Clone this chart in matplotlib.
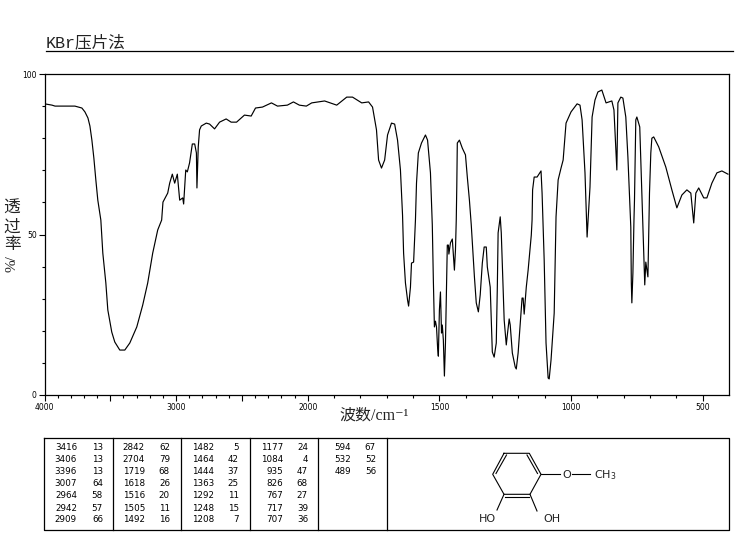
import numpy as np
import matplotlib
matplotlib.use("Agg")
import matplotlib.pyplot as plt

# curve
wavenumber = [3998, 3943, 3920, 3769, 3716, 3693, 3670, 3655, 3640, 3625, 3610, 3595, 3572, 3557, 3534, 3519,
              3489, 3466, 3428, 3390, 3352, 3299, 3254, 3216, 3178, 3140, 3110, 3100, 3064, 3049, 3029, 3011,
              2991, 2973, 2950, 2943, 2927, 2915, 2898, 2877, 2859, 2846, 2842, 2832, 2822, 2809, 2771, 2746,
              2708, 2670, 2620, 2582, 2541, 2481, 2430, 2397, 2344, 2276, 2230, 2155, 2109, 2064, 2011, 1985,
              1936, 1890, 1852, 1830, 1795, 1769, 1754, 1739, 1731, 1720, 1708, 1697, 1682, 1670, 1659, 1648,
              1640, 1636, 1629, 1621, 1617, 1610, 1606, 1598, 1591, 1587, 1580, 1568, 1553, 1545, 1534, 1527,
              1523, 1519, 1515, 1511, 1507, 1504, 1500, 1496, 1492, 1489, 1485, 1481, 1477, 1473, 1470, 1466,
              1464, 1458, 1451, 1443, 1439, 1436, 1434, 1432, 1424, 1413, 1401, 1394, 1386, 1379, 1367, 1360,
              1352, 1345, 1337, 1330, 1322, 1318, 1307, 1299, 1292, 1284, 1280, 1277, 1269, 1265, 1261, 1254,
              1246, 1242, 1235, 1231, 1223, 1212, 1208, 1201, 1193, 1186, 1182, 1178, 1170, 1163, 1151, 1148,
              1146, 1140, 1129, 1114, 1110, 1102, 1095, 1087, 1083, 1076, 1064, 1057, 1049, 1038, 1030, 1019,
              1000, 977, 966, 958, 947, 939, 928, 920, 909, 898, 883, 867, 845, 837, 830, 826,
              822, 811, 803, 792, 784, 773, 771, 769, 765, 761, 759, 754, 750, 739, 731, 723,
              720, 716, 708, 704, 702, 697, 693, 686, 667, 640, 617, 598, 579, 560, 545, 534,
              526, 515, 496, 484, 465, 446, 427, 404]
transmittance = [90.7, 90.3, 90.0, 90.0, 89.4, 88.2, 86.3, 83.8, 79.4, 73.8, 67.0, 60.7, 54.5, 44.2, 34.9, 26.5,
                 19.6, 16.5, 14.0, 14.0, 16.2, 21.2, 28.0, 34.9, 44.2, 51.4, 54.5, 60.1, 62.9, 66.0, 68.8, 66.0,
                 68.8, 60.7, 61.4, 59.5, 70.1, 69.5, 72.3, 78.2, 78.2, 75.4, 64.5, 77.3, 82.6, 83.8, 84.7, 84.4,
                 82.9, 85.0, 86.0, 85.0, 85.0, 87.2, 86.9, 89.4, 89.7, 91.0, 90.0, 90.3, 91.3, 90.3, 90.0, 91.0,
                 91.6, 90.3, 92.8, 92.8, 91.0, 91.3, 89.7, 82.6, 73.2, 70.7, 73.2, 81.0, 84.7, 84.4, 79.4, 70.1,
                 56.0, 44.2, 34.9, 29.6, 27.7, 33.6, 41.1, 41.4, 54.5, 66.0, 75.4, 78.5, 81.0, 79.4, 69.2, 53.0,
                 35.8, 21.2, 23.0, 21.2, 15.0, 12.1, 26.5, 32.1, 19.3, 21.8, 17.1, 5.9, 16.2, 33.6, 46.7, 46.7,
                 43.9, 47.4, 48.6, 38.9, 45.2, 54.5, 64.8, 78.5, 79.4, 76.9, 74.8, 67.9, 60.7, 53.0, 36.8, 28.7,
                 25.9, 31.2, 41.1, 46.1, 46.1, 39.9, 33.6, 13.4, 11.8, 16.2, 33.6, 50.5, 55.5, 50.5, 40.5, 23.4,
                 15.6, 18.7, 23.7, 21.8, 13.1, 8.7, 8.1, 13.1, 22.4, 30.2, 30.2, 25.2, 33.6, 38.9, 49.8, 54.5,
                 63.9, 67.9, 67.9, 69.8, 62.9, 42.0, 16.2, 5.3, 5.0, 10.9, 25.5, 55.5, 67.0, 70.7, 73.2, 84.7,
                 88.2, 90.7, 90.3, 85.7, 69.2, 49.2, 64.8, 86.6, 91.9, 94.4, 95.0, 91.0, 91.6, 88.8, 77.3, 70.1,
                 91.0, 92.8, 92.5, 86.6, 74.1, 52.3, 34.9, 28.7, 38.0, 54.5, 60.7, 85.7, 86.6, 83.5, 62.9, 42.0,
                 34.3, 41.4, 36.8, 54.5, 62.9, 75.4, 80.0, 80.4, 77.3, 71.0, 63.9, 58.3, 62.3, 63.9, 62.9, 53.6,
                 62.9, 64.5, 61.4, 61.4, 66.0, 69.2, 69.8, 68.8]

# peak table, one list per column
col_waves = [[3416, 3406, 3396, 3007, 2964, 2942, 2909],
             [2842, 2704, 1719, 1618, 1516, 1505, 1492],
             [1482, 1464, 1444, 1363, 1292, 1248, 1208],
             [1177, 1084, 935, 826, 767, 717, 707],
             [594, 532, 489]]
col_trans = [[13, 13, 13, 64, 58, 57, 66],
             [62, 79, 68, 26, 20, 11, 16],
             [5, 42, 37, 25, 11, 15, 7],
             [24, 4, 47, 68, 27, 39, 36],
             [67, 52, 56]]

x_major = [4000, 3500, 3000, 2500, 2000, 1500, 1000, 500]
x_labels = {4000: "4000", 3000: "3000", 2000: "2000", 1500: "1500", 1000: "1000", 500: "500"}
y_major = [0, 50, 100]

W, H = 737, 539
CJK = "Noto Sans CJK SC"


# the axis is twice as wide per cm-1 below 2000
def forward(x):
    x = np.asarray(x, dtype=float)
    return np.where(x > 2000, x, 2000 - (2000 - x) * 2)


def inverse(u):
    u = np.asarray(u, dtype=float)
    return np.where(u > 2000, u, 2000 - (2000 - u) / 2)


fig = plt.figure(figsize=(W / 100, H / 100), dpi=100, facecolor="white")

# ---- spectrum ----
ax = fig.add_axes([44.5 / W, 1 - 395 / H, (729 - 44.5) / W, 321 / H])
ax.set_xscale("function", functions=(forward, inverse))
ax.plot(wavenumber, transmittance, color="black", lw=0.85)

ax.set_xticks(x_major)
ax.set_xticklabels([x_labels.get(v, "") for v in x_major], fontsize=5.5)
ax.set_xticks([v for v in range(500, 4000, 100) if v not in x_major], minor=True)
ax.set_yticks(y_major)
ax.set_yticklabels([str(v) for v in y_major], fontsize=5.5)
ax.set_yticks([v for v in range(0, 101, 10) if v not in y_major], minor=True)
ax.tick_params(axis="both", which="major", length=4, width=0.8, pad=1.5)
ax.tick_params(axis="both", which="minor", length=2, width=0.8)
for s in ax.spines.values():
    s.set_linewidth(0.9)
ax.set_xlim(4000, 400)
ax.set_ylim(0, 100)

# ---- overlay in pixel coordinates for titles, table and structure ----
ov = fig.add_axes([0, 0, 1, 1], facecolor="none")
ov.set_xlim(0, W)
ov.set_ylim(H, 0)
ov.axis("off")

ov.text(46, 42, "KBr压片法", fontsize=12, family=["Liberation Mono", CJK], va="center", ha="left", color="#222222")
ov.plot([46, 733], [50.5, 50.5], color="black", lw=0.9)

ov.text(374, 416, "波数/cm⁻¹", fontsize=11.5, family=["Liberation Serif", CJK, "DejaVu Sans"],
        va="center", ha="center", color="#222222")
for ch, yy in zip("透过率", [208, 227, 245]):
    ov.text(12, yy, ch, fontsize=12, family=CJK, va="center", ha="center", color="#222222")
ov.text(12, 264, "%/", fontsize=11, family="Liberation Serif", rotation=90, va="center", ha="center", color="#222222")

# table frame
ov.plot([44.5, 729.5, 729.5, 44.5, 44.5], [438, 438, 530, 530, 438], color="black", lw=0.9)
for xx in [112.7, 181, 250, 318, 387]:
    ov.plot([xx, xx], [438, 530], color="black", lw=0.9)

row_y = [447.3, 459, 472, 483.7, 495.7, 508.7, 520]
wave_x = [77, 145, 214, 283, 351]
trans_x = [103, 170, 239, 308, 376]
for c in range(len(col_waves)):
    for r in range(len(col_waves[c])):
        ov.text(wave_x[c], row_y[r], str(col_waves[c][r]), fontsize=6.3, ha="right", va="center")
        ov.text(trans_x[c], row_y[r], str(col_trans[c][r]), fontsize=6.3, ha="right", va="center")

# guaiacol-type structure
ring = [(504, 453.3), (529.3, 453.3), (541, 474.3), (530, 494.3), (504, 494.3), (492.7, 474.3), (504, 453.3)]
ov.plot([p[0] for p in ring], [p[1] for p in ring], color="black", lw=0.8)
for a, b in [((506.5, 455), (496, 473.5)), ((527, 455), (537.5, 473.5)), ((505, 496.5), (529, 496.5))]:
    ov.plot([a[0], b[0]], [a[1], b[1]], color="black", lw=0.8)
ov.plot([541, 560], [474.3, 474.3], color="black", lw=0.8)
ov.plot([572, 590], [474.3, 474.3], color="black", lw=0.8)
ov.plot([504, 497], [494.3, 510], color="black", lw=0.8)
ov.plot([530, 537], [494.3, 511], color="black", lw=0.8)
ov.text(566.5, 474.5, "O", fontsize=8, ha="center", va="center", color="#222222")
ov.text(594, 475.5, "CH$_3$", fontsize=8, ha="left", va="center", color="#222222")
ov.text(487, 518.5, "HO", fontsize=8, ha="center", va="center", color="#222222")
ov.text(551.5, 518.5, "OH", fontsize=8, ha="center", va="center", color="#222222")

fig.savefig("out.png", dpi=100)
